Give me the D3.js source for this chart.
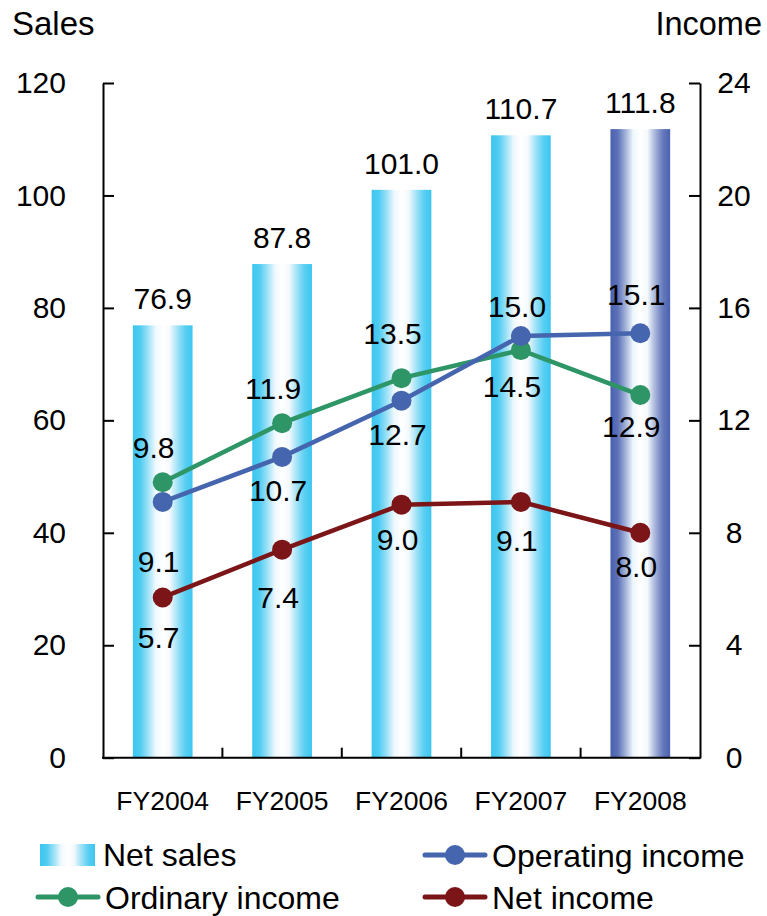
<!DOCTYPE html>
<html><head><meta charset="utf-8">
<script src="https://cdn.jsdelivr.net/npm/d3@7"></script>
<style>
html,body{margin:0;padding:0;background:#fff;}
text{font-family:"Liberation Sans",Arial,sans-serif;fill:#000;}
</style></head>
<body>
<svg id="chart" width="767" height="916"></svg>
<script>
// ---- data ----
const categories = ["FY2004","FY2005","FY2006","FY2007","FY2008"];
const netSales = [76.9, 87.8, 101.0, 110.7, 111.8];
const operatingIncome = [9.1, 10.7, 12.7, 15.0, 15.1];
const ordinaryIncome = [9.8, 11.9, 13.5, 14.5, 12.9];
const netIncome = [5.7, 7.4, 9.0, 9.1, 8.0];
const salesTicks = [0, 20, 40, 60, 80, 100, 120];
const incomeTicks = [0, 4, 8, 12, 16, 20, 24];

// label placement offsets (px, label centre relative to marker)
const opLabelDy = [59, 33, 34, -30, -39];
const ordLabelDy = [-35, -35, -45, 36, 31];
const netLabelDy = [40, 48, 35, 38, 33];

const svg = d3.select("#chart");
const L = 103, R = 700, T = 83, B = 757.7;

const x = d3.scaleBand().domain(categories).range([L, R]).paddingInner(0.5).paddingOuter(0.25);
const yS = d3.scaleLinear().domain([0, 120]).range([B, T]);
const yI = d3.scaleLinear().domain([0, 24]).range([B, T]);

const defs = svg.append("defs");
function grad(id, c) {
  const g = defs.append("linearGradient").attr("id", id).attr("x1", "0").attr("x2", "1").attr("y1", "0").attr("y2", "0");
  [[0, c, 1], [0.12, c, 0.9], [0.38, "#eef8fd", 1], [0.5, "#ffffff", 1], [0.62, "#f4f9fd", 1], [0.88, c, 0.85], [1, c, 1]]
    .forEach(([o, col, op]) => g.append("stop").attr("offset", o).attr("stop-color", col).attr("stop-opacity", op));
}
grad("gCyan", "#3cc6f0");
grad("gBlue", "#4a61b0");

// bars
svg.append("g").selectAll("rect").data(netSales).join("rect")
  .attr("x", (d, i) => x(categories[i]))
  .attr("y", d => yS(d))
  .attr("width", x.bandwidth())
  .attr("height", d => B - yS(d))
  .attr("fill", (d, i) => i === categories.length - 1 ? "url(#gBlue)" : "url(#gCyan)");

// bar labels
svg.append("g").selectAll("text").data(netSales).join("text")
  .attr("x", (d, i) => x(categories[i]) + x.bandwidth() / 2)
  .attr("y", d => yS(d) - 16)
  .attr("text-anchor", "middle")
  .attr("font-size", 30)
  .text(d => d.toFixed(1));

// axes
const axisG = svg.append("g");
const leftAxis = d3.axisLeft(yS).tickValues(salesTicks).tickSizeInner(-11).tickSizeOuter(0).tickPadding(37);
const gl = axisG.append("g").attr("transform", `translate(${L},0)`).call(leftAxis);
gl.select(".domain").attr("stroke", "#000").attr("stroke-width", 2);
gl.selectAll(".tick line").attr("stroke", "#000").attr("stroke-width", 2);
gl.selectAll(".tick text").attr("font-size", 30).attr("font-family", "Liberation Sans, Arial, sans-serif").attr("fill", "#000");

const rightAxis = d3.axisRight(yI).tickValues(incomeTicks).tickSizeInner(-11).tickSizeOuter(0).tickPadding(34);
const gr = axisG.append("g").attr("transform", `translate(${R},0)`).call(rightAxis);
gr.select(".domain").attr("stroke", "#000").attr("stroke-width", 2);
gr.selectAll(".tick line").attr("stroke", "#000").attr("stroke-width", 2);
gr.selectAll(".tick text").attr("font-size", 30).attr("font-family", "Liberation Sans, Arial, sans-serif").attr("fill", "#000").attr("text-anchor", "middle");

// bottom axis
axisG.append("line").attr("x1", L - 1).attr("x2", R + 1).attr("y1", B).attr("y2", B).attr("stroke", "#000").attr("stroke-width", 2);
axisG.selectAll(".ctick").data(categories.slice(1)).join("line")
  .attr("x1", d => x(d) - x.step() * 0.25).attr("x2", d => x(d) - x.step() * 0.25)
  .attr("y1", B).attr("y2", B - 10).attr("stroke", "#000").attr("stroke-width", 2);
axisG.selectAll(".clab").data(categories).join("text")
  .attr("x", d => x(d) + x.bandwidth() / 2)
  .attr("y", 810)
  .attr("text-anchor", "middle").attr("font-size", 26.5)
  .text(d => d);

// axis titles
svg.append("text").attr("x", 12).attr("y", 35).attr("font-size", 33).text("Sales");
svg.append("text").attr("x", 762).attr("y", 35).attr("font-size", 32.5).attr("text-anchor", "end").text("Income");

// lines
const series = [
  { vals: ordinaryIncome, color: "#2e9566", dy: ordLabelDy, dx: -9 },
  { vals: operatingIncome, color: "#4565ae", dy: opLabelDy, dx: -4 },
  { vals: netIncome, color: "#7b1518", dy: netLabelDy, dx: -4 }
];
const cx = i => x(categories[i]) + x.bandwidth() / 2;
const line = d3.line().x((d, i) => cx(i)).y(d => yI(d));
series.forEach(s => {
  const g = svg.append("g");
  g.append("path").datum(s.vals).attr("d", line).attr("fill", "none").attr("stroke", s.color).attr("stroke-width", 4.5);
  g.selectAll("circle").data(s.vals).join("circle")
    .attr("cx", (d, i) => cx(i)).attr("cy", d => yI(d)).attr("r", 10).attr("fill", s.color);
});
series.forEach(s => {
  svg.append("g").selectAll("text").data(s.vals).join("text")
    .attr("x", (d, i) => cx(i) + s.dx)
    .attr("y", (d, i) => yI(d) + s.dy[i] + 10.7)
    .attr("text-anchor", "middle").attr("font-size", 30)
    .text(d => d.toFixed(1));
});

// legend
const lg = svg.append("g");
lg.append("rect").attr("x", 40).attr("y", 844).attr("width", 55).attr("height", 22).attr("fill", "url(#gCyan)");
lg.append("text").attr("x", 103).attr("y", 866).attr("font-size", 32).text("Net sales");
const legItems = [
  { name: "Operating income", color: "#4565ae", x: 425, y: 855 },
  { name: "Ordinary income", color: "#2e9566", x: 38, y: 897 },
  { name: "Net income", color: "#7b1518", x: 425, y: 897 }
];
legItems.forEach(it => {
  lg.append("line").attr("x1", it.x).attr("x2", it.x + 60).attr("y1", it.y).attr("y2", it.y).attr("stroke", it.color).attr("stroke-width", 5).attr("stroke-linecap", "round");
  lg.append("circle").attr("cx", it.x + 30).attr("cy", it.y).attr("r", 10).attr("fill", it.color);
  lg.append("text").attr("x", it.x + 67).attr("y", it.y + 11.5).attr("font-size", 32).text(it.name);
});
</script>
</body></html>
